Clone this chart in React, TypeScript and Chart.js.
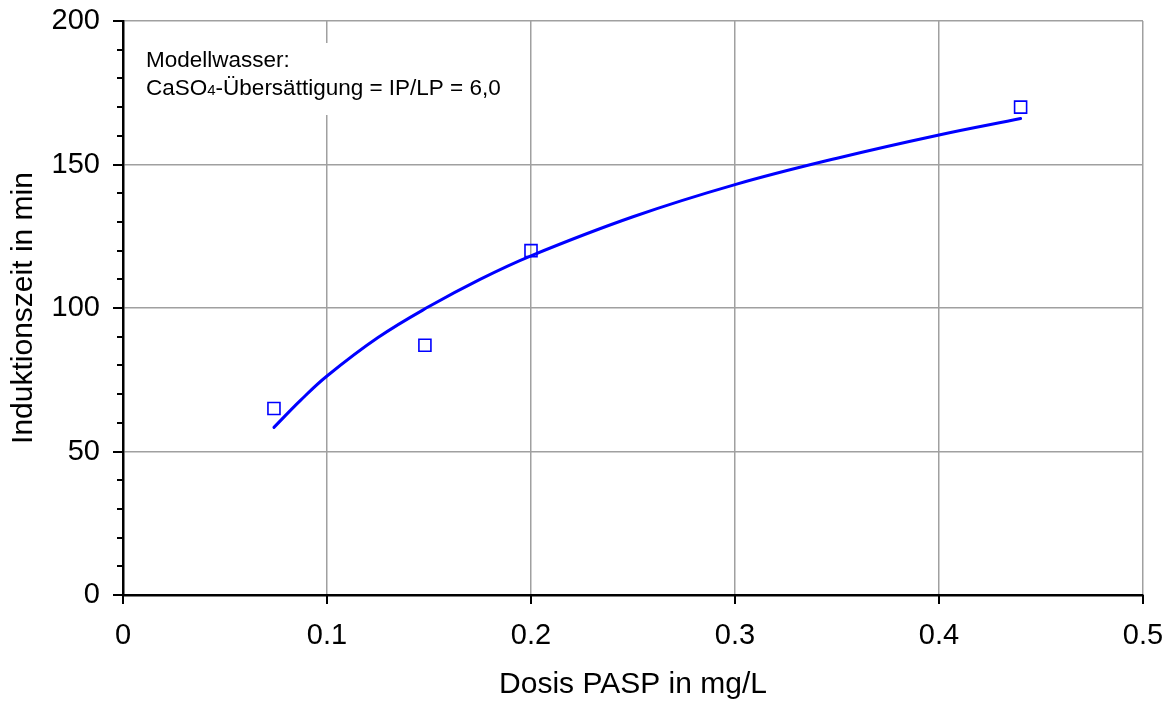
import React, { useEffect, useRef } from 'react';
import { Chart, registerables } from 'chart.js';

Chart.register(...registerables);

// Measured points (hollow squares)
const pointX = [0.074, 0.148, 0.2, 0.44];
const pointY = [65, 87, 120, 170];

// Trend curve
const curveX = [0.074, 0.087, 0.1, 0.125, 0.15, 0.175, 0.2, 0.25, 0.3, 0.35, 0.4, 0.44];
const curveY = [58.4, 67.8, 76.3, 89.7, 100.5, 110, 118.2, 131.8, 143, 152.2, 160.3, 166];

// Axis ticks
const xTicks = [0, 0.1, 0.2, 0.3, 0.4, 0.5];
const yTicks = [0, 50, 100, 150, 200];
const yMinorStep = 10;

const xTitle = 'Dosis PASP in mg/L';
const yTitle = 'Induktionszeit in min';
const noteLine1 = 'Modellwasser:';
const noteLine2 = ['CaSO', '4', '-Übersättigung = IP/LP = 6,0'];

const FONT = '"Liberation Sans", Arial, Helvetica, sans-serif';

const decorPlugin = {
  id: 'decor',
  beforeDatasetsDraw(chart: any) {
    const ctx = chart.ctx as CanvasRenderingContext2D;
    const a = chart.chartArea;
    ctx.save();
    ctx.fillStyle = '#ffffff';
    ctx.fillRect(a.left + 2, a.top + 22, 395, 72);
    ctx.fillStyle = '#000000';
    ctx.textBaseline = 'alphabetic';
    ctx.textAlign = 'left';
    ctx.font = `22.5px ${FONT}`;
    const tx = a.left + 23;
    ctx.fillText(noteLine1, tx, a.top + 46);
    let x = tx;
    const by = a.top + 74;
    ctx.fillText(noteLine2[0], x, by);
    x += ctx.measureText(noteLine2[0]).width;
    ctx.font = `15px ${FONT}`;
    ctx.fillText(noteLine2[1], x, by);
    x += ctx.measureText(noteLine2[1]).width;
    ctx.font = `22.5px ${FONT}`;
    ctx.fillText(noteLine2[2], x, by);
    ctx.restore();
  },
  afterDraw(chart: any) {
    const ctx = chart.ctx as CanvasRenderingContext2D;
    const a = chart.chartArea;
    const ys = chart.scales.y;
    const xs = chart.scales.x;
    ctx.save();
    ctx.strokeStyle = '#000000';
    ctx.lineWidth = 2;
    const yMin = yTicks[0];
    const yMax = yTicks[yTicks.length - 1];
    for (let v = yMin; v <= yMax; v += yMinorStep) {
      const py = Math.round(ys.getPixelForValue(v));
      const len = v % 50 === 0 ? 10 : 6;
      ctx.beginPath();
      ctx.moveTo(a.left - len, py);
      ctx.lineTo(a.left, py);
      ctx.stroke();
    }
    for (const v of xTicks) {
      const px = Math.round(xs.getPixelForValue(v));
      ctx.beginPath();
      ctx.moveTo(px, a.bottom);
      ctx.lineTo(px, a.bottom + 9);
      ctx.stroke();
    }
    ctx.restore();
  },
};

const zeroPad = (scale: any) => {
  scale.paddingTop = 0;
  scale.paddingBottom = 0;
  scale.paddingLeft = 0;
  scale.paddingRight = 0;
};

export default function App() {
  const canvasRef = useRef<HTMLCanvasElement | null>(null);

  useEffect(() => {
    const canvas = canvasRef.current;
    if (!canvas) return;
    const chart = new Chart(canvas, {
      type: 'scatter',
      data: {
        datasets: [
          {
            label: 'Trend',
            data: curveX.map((x, i) => ({ x, y: curveY[i] })),
            showLine: true,
            borderColor: '#0000ff',
            borderWidth: 3,
            borderCapStyle: 'round',
            pointRadius: 0,
            pointHoverRadius: 0,
            tension: 0.4,
            fill: false,
            order: 2,
          } as any,
          {
            label: 'Messwerte',
            data: pointX.map((x, i) => ({ x, y: pointY[i] })),
            showLine: false,
            pointStyle: 'rect',
            pointRadius: 8.5,
            pointBorderWidth: 1.6,
            borderColor: '#0000ff',
            backgroundColor: 'rgba(0,0,0,0)',
            order: 1,
          } as any,
        ],
      },
      options: {
        animation: false,
        responsive: false,
        devicePixelRatio: 1,
        layout: { padding: { top: 21, right: 30, left: 0, bottom: 0 } },
        plugins: {
          legend: { display: false },
          tooltip: { enabled: false },
        },
        scales: {
          x: {
            type: 'linear',
            min: xTicks[0],
            max: xTicks[xTicks.length - 1],
            afterBuildTicks: (scale: any) => {
              scale.ticks = xTicks.map((v) => ({ value: v }));
            },
            afterFit: (scale: any) => {
              scale.height = 109;
              zeroPad(scale);
            },
            grid: { color: '#a0a0a0', lineWidth: 1.5, drawTicks: false },
            border: { display: true, color: '#000000', width: 2.5 },
            ticks: {
              padding: 24,
              color: '#000000',
              font: { family: FONT, size: 29 },
              maxRotation: 0,
              autoSkip: false,
              callback: (v: any) => String(Number(v)),
            },
            title: {
              display: true,
              text: xTitle,
              color: '#000000',
              font: { family: FONT, size: 30 },
              padding: { top: 0, bottom: 1 },
            },
          },
          y: {
            type: 'linear',
            min: yTicks[0],
            max: yTicks[yTicks.length - 1],
            afterBuildTicks: (scale: any) => {
              scale.ticks = yTicks.map((v) => ({ value: v }));
            },
            afterFit: (scale: any) => {
              scale.width = 123;
              zeroPad(scale);
            },
            grid: { color: '#a0a0a0', lineWidth: 1.5, drawTicks: false },
            border: { display: true, color: '#000000', width: 2.5 },
            ticks: {
              padding: 23,
              color: '#000000',
              font: { family: FONT, size: 29 },
              autoSkip: false,
              callback: (v: any) => String(Number(v)),
            },
            title: {
              display: true,
              text: yTitle,
              color: '#000000',
              font: { family: FONT, size: 30 },
              padding: { top: 6, bottom: 0 },
            },
          },
        },
      } as any,
      plugins: [decorPlugin],
    });
    return () => chart.destroy();
  }, []);

  return (
    <div style={{ position: 'absolute', left: 0, top: 0, width: 1173, height: 704, background: '#ffffff' }}>
      <canvas ref={canvasRef} width={1173} height={704} style={{ display: 'block', width: 1173, height: 704 }} />
    </div>
  );
}
